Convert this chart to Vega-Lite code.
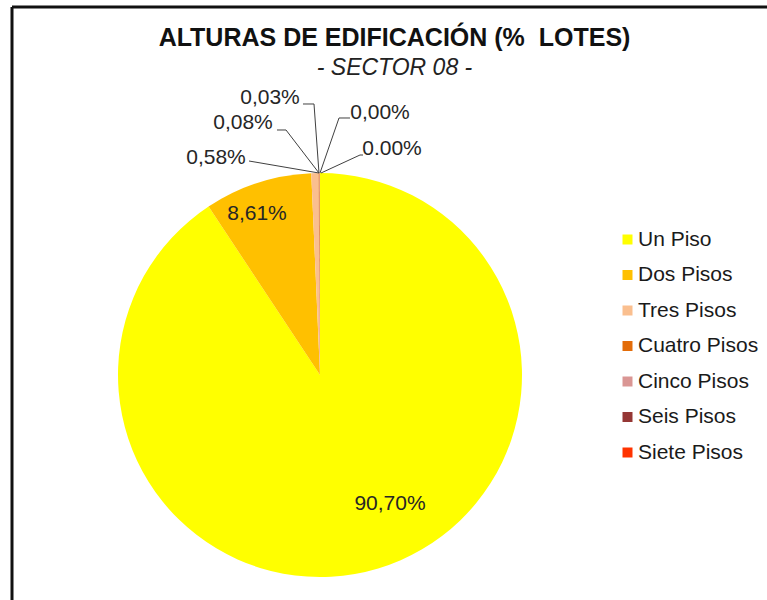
{
  "$schema": "https://vega.github.io/schema/vega-lite/v6.json",
  "width": 755,
  "height": 593,
  "autosize": {"type": "none"},
  "padding": {"left": 12, "top": 7, "right": 0, "bottom": 0},
  "background": "white",
  "config": {
    "font": "Liberation Sans",
    "view": {"stroke": null},
    "legend": {"padding": 0}
  },
  "title": {
    "text": "ALTURAS DE EDIFICACIÓN (%\u00a0\u00a0LOTES)",
    "subtitle": "- SECTOR 08 -",
    "orient": "top",
    "anchor": "middle",
    "offset": -74,
    "dx": 5,
    "font": "Liberation Sans",
    "fontSize": 25,
    "fontWeight": "bold",
    "color": "#111111",
    "subtitleFont": "Liberation Sans",
    "subtitleFontSize": 23,
    "subtitleFontStyle": "italic",
    "subtitleColor": "#222222",
    "subtitlePadding": 6
  },
  "datasets": {
    "pie": [
      {"cat": "Un Piso", "n": 1, "pct": 90.70},
      {"cat": "Dos Pisos", "n": 2, "pct": 8.61},
      {"cat": "Tres Pisos", "n": 3, "pct": 0.58},
      {"cat": "Cuatro Pisos", "n": 4, "pct": 0.08},
      {"cat": "Cinco Pisos", "n": 5, "pct": 0.03},
      {"cat": "Seis Pisos", "n": 6, "pct": 0.00},
      {"cat": "Siete Pisos", "n": 7, "pct": 0.00}
    ],
    "leaders": [
      {"u": -0.3515, "v": 1.0594, "u2": -0.005, "v2": 1.0},
      {"u": -0.2129, "v": 1.2129, "u2": -0.1683, "v2": 1.2129},
      {"u": -0.1683, "v": 1.2129, "u2": -0.005, "v2": 1.0},
      {"u": -0.0842, "v": 1.3416, "u2": -0.0297, "v2": 1.3416},
      {"u": -0.0297, "v": 1.3416, "u2": -0.005, "v2": 1.0},
      {"u": 0.0941, "v": 1.2723, "u2": 0.1485, "v2": 1.2723},
      {"u": 0.0941, "v": 1.2723, "u2": 0.0, "v2": 1.0},
      {"u": 0.198, "v": 1.0891, "u2": 0.2129, "v2": 1.0891},
      {"u": 0.198, "v": 1.0891, "u2": 0.005, "v2": 1.0}
    ],
    "labels": [
      {"label": "90,70%", "u": 0.3465, "v": -0.6337},
      {"label": "8,61%", "u": -0.3119, "v": 0.802},
      {"label": "0,58%", "u": -0.5149, "v": 1.0792},
      {"label": "0,08%", "u": -0.3812, "v": 1.2525},
      {"label": "0,03%", "u": -0.2475, "v": 1.3762},
      {"label": "0,00%", "u": 0.297, "v": 1.302},
      {"label": "0.00%", "u": 0.3564, "v": 1.1238}
    ]
  },
  "layer": [
    {
      "data": {"name": "pie"},
      "mark": {"type": "arc", "outerRadius": 202, "stroke": null},
      "encoding": {
        "x": {"datum": 0, "type": "quantitative", "scale": {"domain": [-1.5248, 2.2129], "nice": false, "zero": false}, "axis": null},
        "y": {"datum": 0, "type": "quantitative", "scale": {"domain": [-1.1139, 1.8218], "nice": false, "zero": false}, "axis": null},
        "theta": {"field": "pct", "type": "quantitative", "stack": true},
        "order": {"field": "n", "type": "quantitative"},
        "color": {
          "field": "cat",
          "type": "nominal",
          "sort": ["Un Piso", "Dos Pisos", "Tres Pisos", "Cuatro Pisos", "Cinco Pisos", "Seis Pisos", "Siete Pisos"],
          "scale": {
            "domain": ["Un Piso", "Dos Pisos", "Tres Pisos", "Cuatro Pisos", "Cinco Pisos", "Seis Pisos", "Siete Pisos"],
            "range": ["#FFFF00", "#FFC000", "#FABF8F", "#E36C09", "#DA9694", "#953735", "#FF3300"]
          },
          "legend": {
            "title": null,
            "orient": "none",
            "legendX": 605,
            "legendY": 222,
            "symbolType": "square",
            "symbolSize": 100,
            "symbolStrokeWidth": 0,
            "labelFont": "Liberation Sans",
            "labelFontSize": 21,
            "labelColor": "#1a1a1a",
            "labelOffset": 0,
            "rowPadding": 13.5,
            "labelLimit": 300
          }
        }
      }
    },
    {
      "data": {"values": [{}]},
      "mark": {"type": "rule", "color": "#111111", "strokeWidth": 3},
      "encoding": {"x": {"datum": -1.5248, "type": "quantitative"}}
    },
    {
      "data": {"values": [{}]},
      "mark": {"type": "rule", "color": "#111111", "strokeWidth": 3},
      "encoding": {"y": {"datum": 1.8218, "type": "quantitative"}}
    },
    {
      "data": {"name": "leaders"},
      "mark": {"type": "rule", "color": "#404040", "strokeWidth": 1},
      "encoding": {
        "x": {"field": "u", "type": "quantitative"},
        "y": {"field": "v", "type": "quantitative"},
        "x2": {"field": "u2"},
        "y2": {"field": "v2"}
      }
    },
    {
      "data": {"name": "labels"},
      "mark": {"type": "text", "font": "Liberation Sans", "fontSize": 21, "color": "#262626", "align": "center", "baseline": "middle", "dy": 1},
      "encoding": {
        "x": {"field": "u", "type": "quantitative"},
        "y": {"field": "v", "type": "quantitative"},
        "text": {"field": "label"}
      }
    }
  ]
}
